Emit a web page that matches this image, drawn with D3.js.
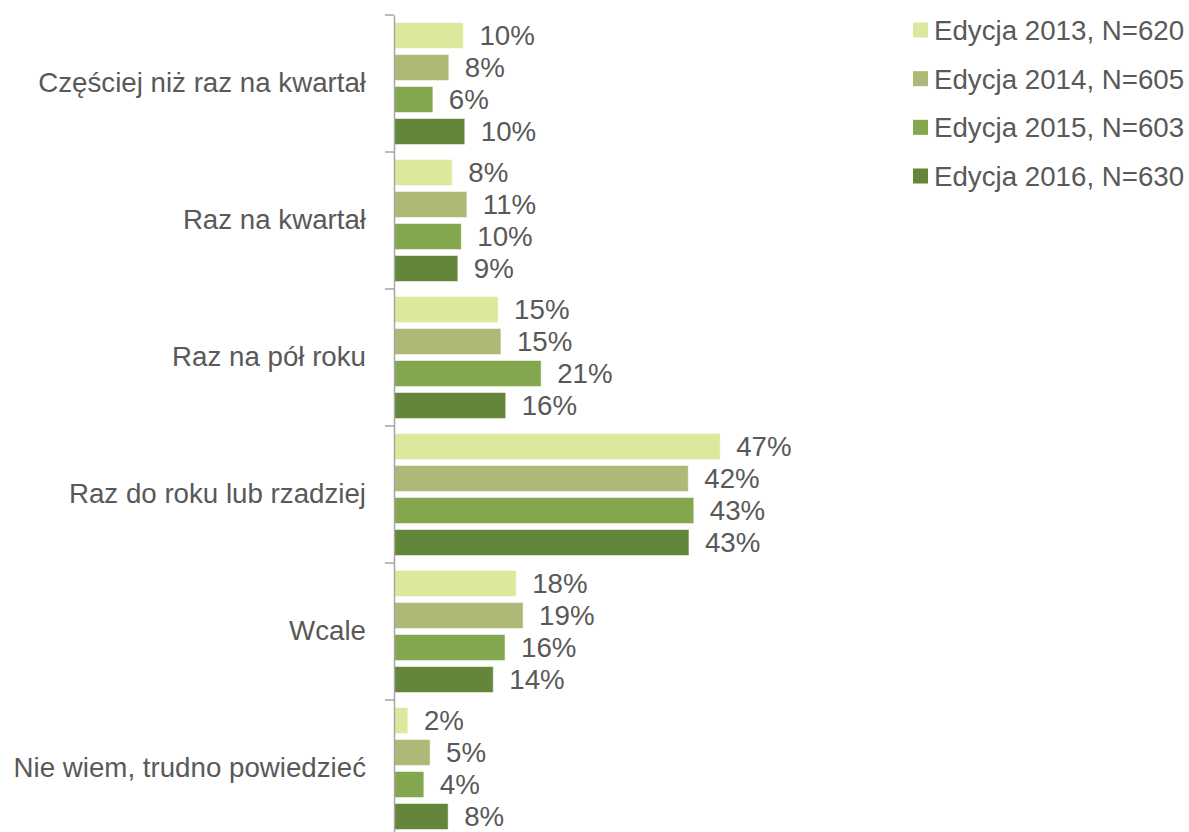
<!DOCTYPE html>
<html>
<head>
<meta charset="utf-8">
<script src="https://cdn.jsdelivr.net/npm/d3@7"></script>
<style>
  html, body { margin: 0; padding: 0; background: #ffffff; }
  svg { display: block; }
  text { font-family: "Liberation Sans", Arial, sans-serif; fill: #595959; }
</style>
</head>
<body>
<svg id="chart" width="1189" height="832"></svg>
<script>
const categories = [
  "Częściej niż raz na kwartał",
  "Raz na kwartał",
  "Raz na pół roku",
  "Raz do roku lub rzadziej",
  "Wcale",
  "Nie wiem, trudno powiedzieć"
];
const seriesNames = [
  "Edycja 2013, N=620",
  "Edycja 2014, N=605",
  "Edycja 2015, N=603",
  "Edycja 2016, N=630"
];
const seriesColors = ["#dde89c", "#adb976", "#84a64e", "#63863b"];
// values in percent, one array per edition (same order as categories)
const values2013 = [10.0, 8.4, 15.0, 47.0, 17.6, 2.0];
const values2014 = [7.9, 10.5, 15.4, 42.4, 18.6, 5.2];
const values2015 = [5.6, 9.7, 21.2, 43.2, 16.0, 4.3];
const values2016 = [10.2, 9.2, 16.1, 42.5, 14.3, 7.8];
const labels2013 = ["10%", "8%", "15%", "47%", "18%", "2%"];
const labels2014 = ["8%", "11%", "15%", "42%", "19%", "5%"];
const labels2015 = ["6%", "10%", "21%", "43%", "16%", "4%"];
const labels2016 = ["10%", "9%", "16%", "43%", "14%", "8%"];

const seriesValues = [values2013, values2014, values2015, values2016];
const seriesLabels = [labels2013, labels2014, labels2015, labels2016];

const svg = d3.select("#chart");
const FONT = 27.7;

const axisX = 394;
const y0 = d3.scaleBand().domain(categories).range([15, 837]).paddingInner(0).paddingOuter(0);
const y1 = d3.scaleBand().domain(d3.range(seriesNames.length)).range([0, y0.bandwidth()])
  .paddingInner(0.1875).paddingOuter(0.234);
const x = d3.scaleLinear().domain([0, 100]).range([axisX, axisX + 694]);

// bars
const groups = svg.append("g").selectAll("g")
  .data(categories)
  .join("g")
  .attr("transform", d => `translate(0,${y0(d)})`);

groups.each(function(cat, ci) {
  const g = d3.select(this);
  seriesNames.forEach((s, si) => {
    const v = seriesValues[si][ci];
    g.append("rect")
      .attr("x", x(0))
      .attr("y", y1(si))
      .attr("width", x(v) - x(0))
      .attr("height", y1.bandwidth())
      .attr("fill", seriesColors[si])
      .attr("stroke", "#ffffff")
      .attr("stroke-opacity", 0.5)
      .attr("stroke-width", 1);
    g.append("text")
      .attr("x", x(v) + 16)
      .attr("y", y1(si) + y1.bandwidth() / 2)
      .attr("dy", "0.36em")
      .style("font-size", FONT + "px")
      .text(seriesLabels[si][ci]);
  });
});

// axis
const axis = d3.axisLeft(y0).tickSize(0).tickPadding(28).tickSizeOuter(0);
const axisG = svg.append("g").attr("transform", `translate(${axisX},0)`).call(axis);
axisG.select(".domain").attr("stroke", "#a6a6a6").attr("stroke-width", 1.5);
axisG.selectAll(".tick text")
  .style("font-size", FONT + "px")
  .style("font-family", '"Liberation Sans", Arial, sans-serif')
  .attr("fill", "#595959");
// category boundary ticks
const bounds = categories.map(c => y0(c)).concat([y0(categories[categories.length - 1]) + y0.bandwidth()]);
svg.append("g").selectAll("line")
  .data(bounds)
  .join("line")
  .attr("x1", axisX - 9).attr("x2", axisX)
  .attr("y1", d => d).attr("y2", d => d)
  .attr("stroke", "#a6a6a6").attr("stroke-width", 1.5);

// legend
const legend = svg.append("g");
const legendY = d3.scalePoint().domain(seriesNames).range([30, 176]);
seriesNames.forEach((s, i) => {
  legend.append("rect")
    .attr("x", 913).attr("y", legendY(s) - 7.5)
    .attr("width", 15).attr("height", 15)
    .attr("fill", seriesColors[i]);
  legend.append("text")
    .attr("x", 934).attr("y", legendY(s))
    .attr("dy", "0.36em")
    .style("font-size", FONT + "px")
    .text(s);
});
</script>
</body>
</html>
